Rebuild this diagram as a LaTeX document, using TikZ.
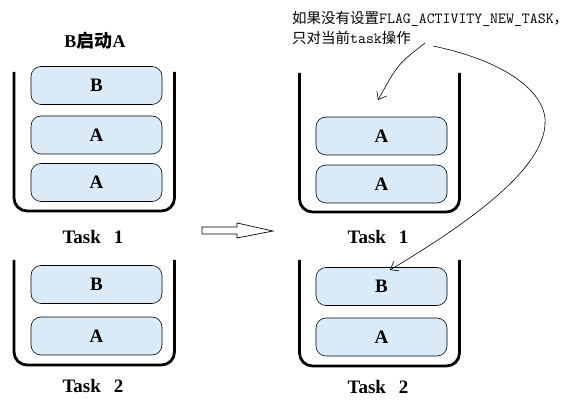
\documentclass[tikz,border=0pt]{standalone}
\usepackage{fontspec}
\setmainfont{Liberation Serif}
\newfontfamily\cjk{Noto Sans CJK SC}
\usetikzlibrary{arrows.meta}
\definecolor{boxblue}{RGB}{218,234,247}
\begin{document}
\begin{tikzpicture}[x=1pt,y=-1pt,
  cont/.style={line width=2.8pt, rounded corners=13pt},
  taskbox/.style={draw=black, line width=0.6pt, fill=boxblue, rounded corners=10pt,
    minimum width=131pt, minimum height=38pt, inner sep=0pt,
    font=\fontsize{19}{20}\selectfont\bfseries},
  lab/.style={inner sep=0pt, font=\fontsize{19}{20}\selectfont\bfseries},
  note/.style={anchor=base west, inner sep=0pt, font=\fontsize{14.5}{20}\selectfont},
  thinarrow/.style={line width=0.6pt, -{Straight Barb[length=7pt,width=11pt]}},
  blockarrow/.style={line width=0.7pt, draw=black, fill=white}
]
\useasboundingbox (0,0) rectangle (571,406);

% title
\node[lab, font=\fontsize{18}{20}\selectfont\bfseries] (title) at (95,41) {B{\cjk\bfseries 启动}A};

% left containers
\draw[cont] (14,72) -- (14,211) -- (174.5,211) -- (174.5,72);
\draw[cont] (14,260) -- (14,365) -- (174.5,365) -- (174.5,260);
% right containers
\draw[cont] (299.5,73) -- (299.5,212) -- (459.5,212) -- (459.5,73);
\draw[cont] (299.5,260) -- (299.5,366) -- (459.5,366) -- (459.5,260);

% left task 1
\node[taskbox] (l1b) at (96.5,85.5) {B};
\node[taskbox] (l1a) at (96.5,135) {A};
\node[taskbox] (l1c) at (96.5,182.5) {A};
\node[lab] (lt1) at (93,237) {Task\hspace{13pt}1};
% left task 2
\node[taskbox] (l2b) at (96.5,284.5) {B};
\node[taskbox] (l2a) at (96.5,336) {A};
\node[lab] (lt2) at (93,386) {Task\hspace{13pt}2};

% right task 1
\node[taskbox] (r1a) at (381.5,136) {A};
\node[taskbox] (r1c) at (381.5,184) {A};
\node[lab] (rt1) at (378,237) {Task\hspace{13pt}1};
% right task 2
\node[taskbox] (r2b) at (381.5,286.5) {B};
\node[taskbox] (r2a) at (381.5,337) {A};
\node[lab] (rt2) at (378,387) {Task\hspace{13pt}2};

% block arrow
\draw[blockarrow] (202,227) -- (237,227) -- (237,223) -- (273,231) -- (237,238) -- (237,234) -- (202,234) -- cycle;

% note
\node[note] (n1) at (292,23.5) {{\cjk 如果没有设置}{\ttfamily\fontsize{15.4}{20}\selectfont FLAG\_ACTIVITY\_NEW\_TASK}{\cjk ，}};
\node[note] (n2) at (292,43.5) {{\cjk 只对当前}{\ttfamily\fontsize{15.4}{20}\selectfont task}{\cjk 操作}};

% curved arrows
\coordinate (s1) at (425,43);
\coordinate (e1) at (378,100);
\coordinate (s2) at (433,46);
\coordinate (m2) at (545,125);
\coordinate (e2) at (390,270);
\draw[thinarrow] (s1) .. controls (398,64) .. (e1);
\draw[thinarrow] (s2) .. controls (510,62) and (548,95) .. (m2) .. controls (542,170) and (470,222) .. (e2);
\end{tikzpicture}
\end{document}
